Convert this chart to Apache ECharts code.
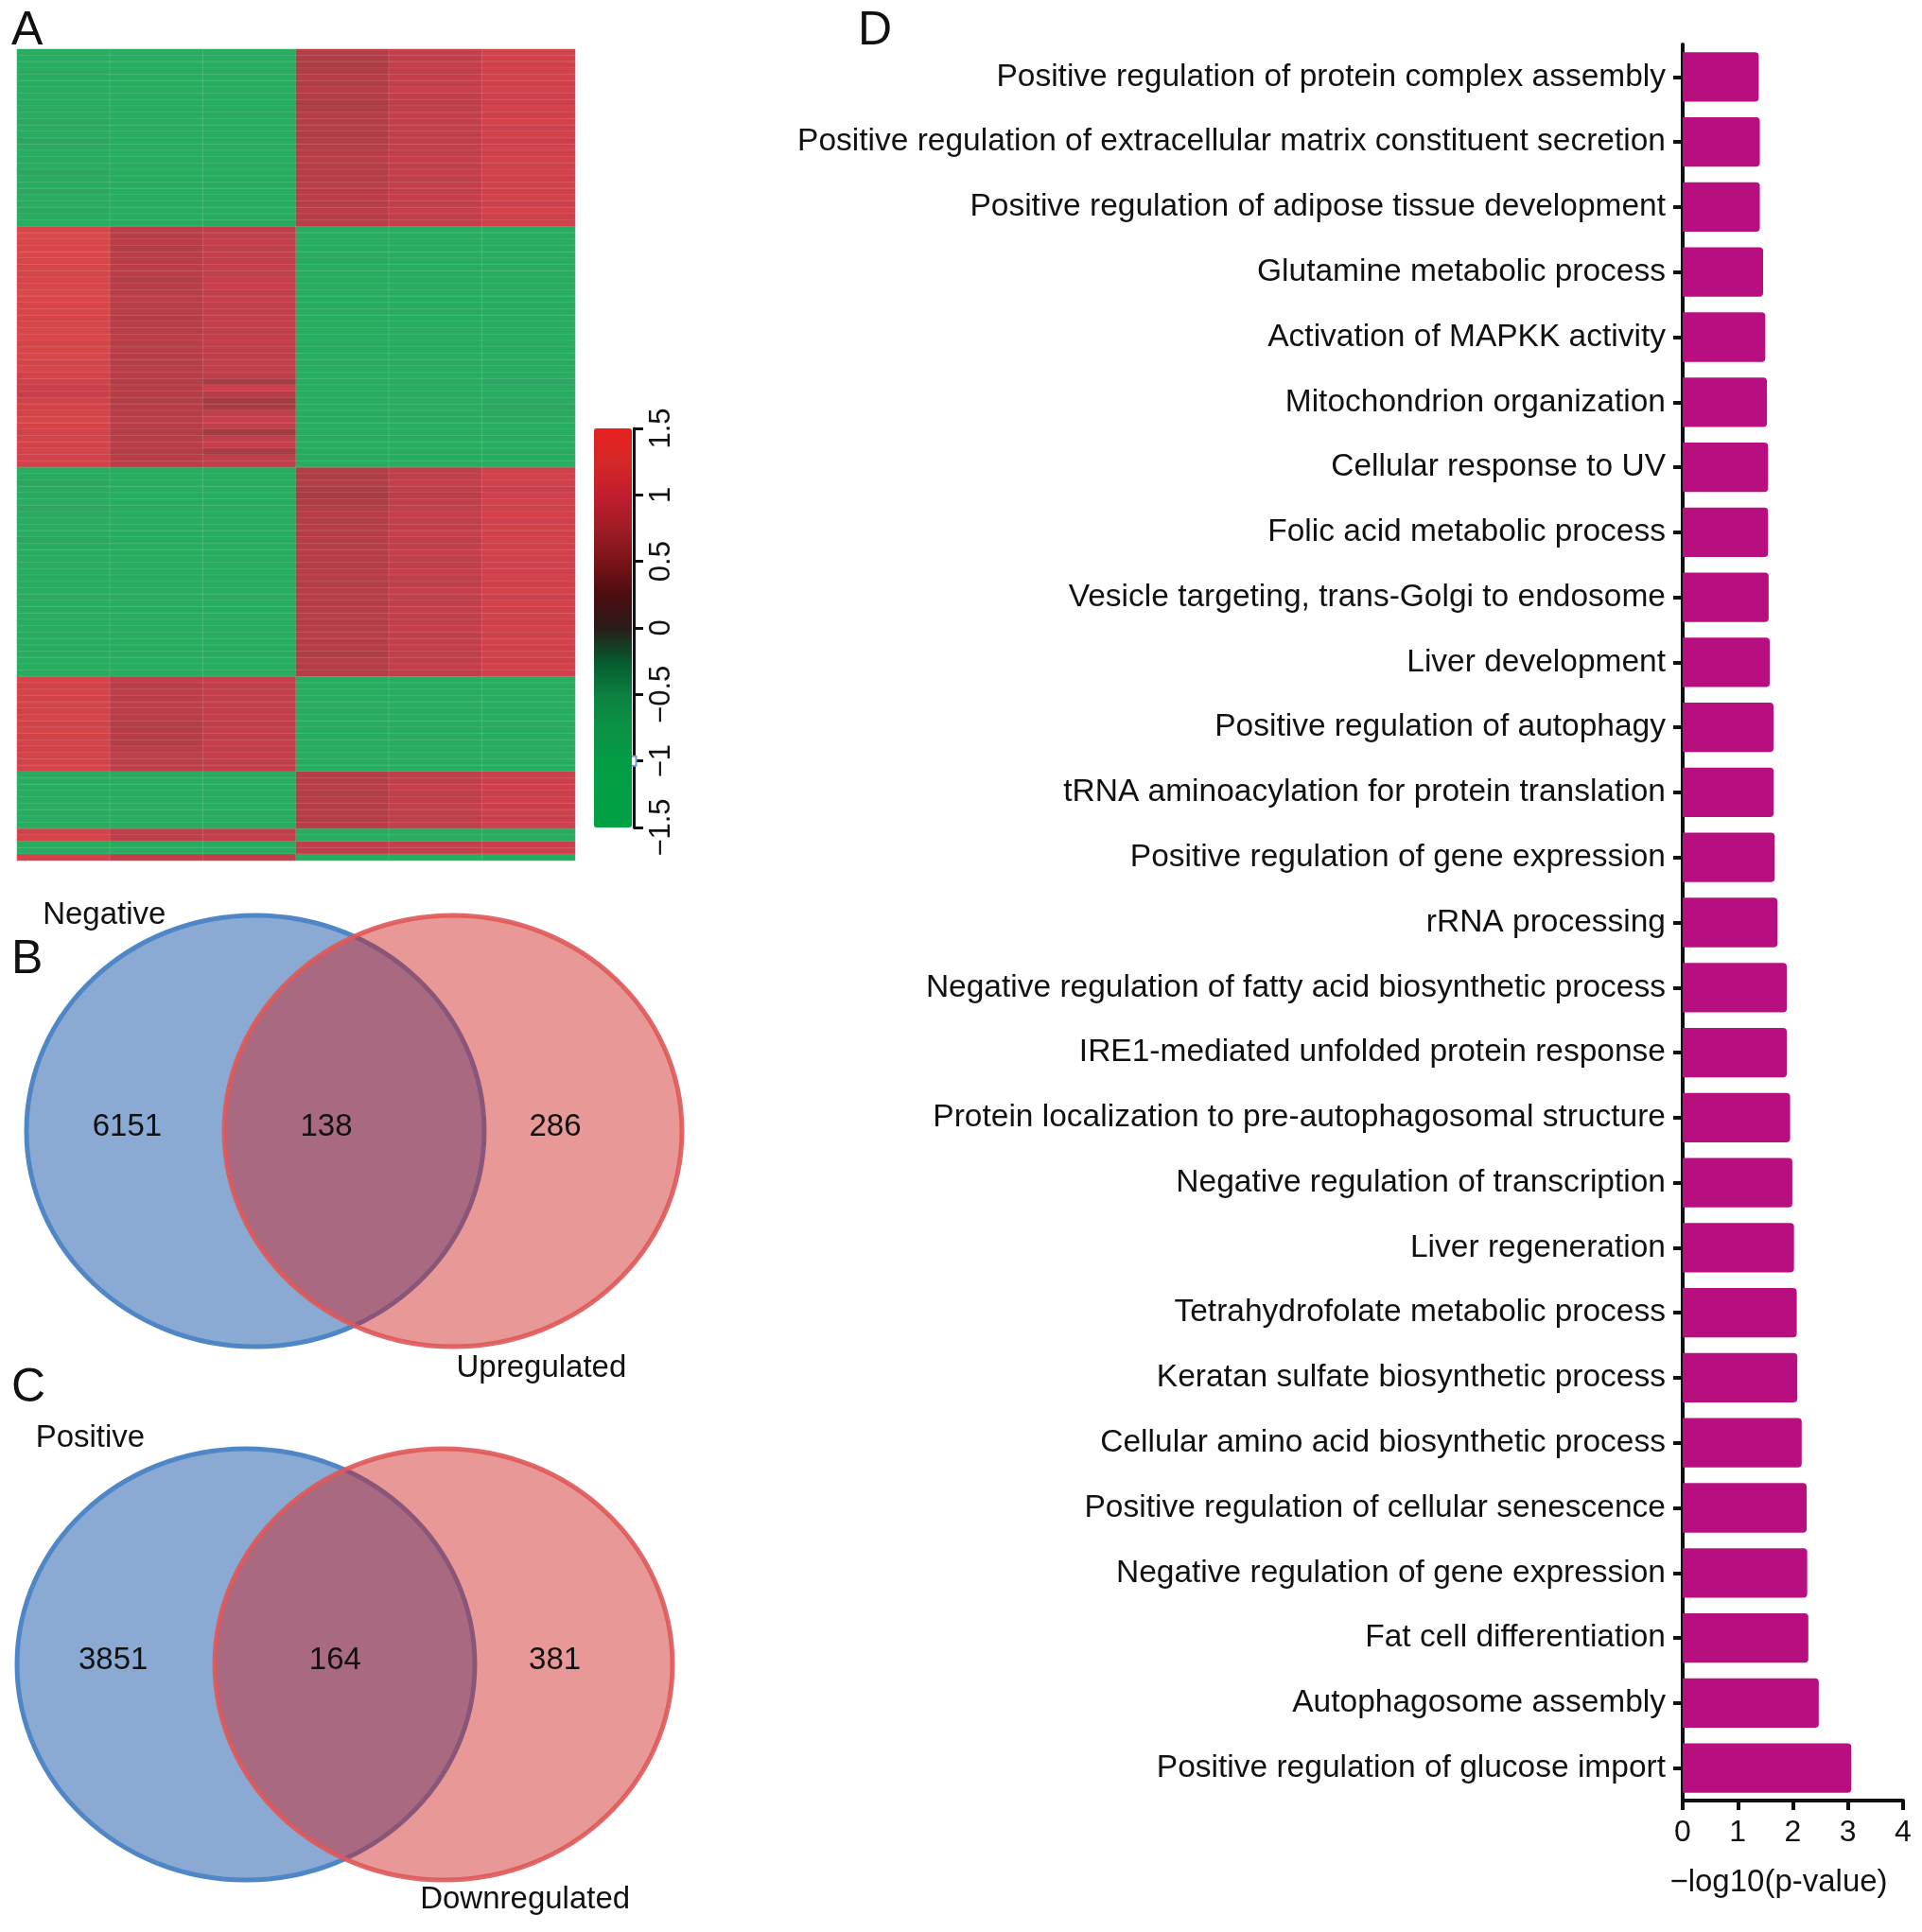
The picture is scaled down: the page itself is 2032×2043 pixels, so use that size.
<!DOCTYPE html>
<html>
<head>
<meta charset="utf-8">
<script src="https://cdn.jsdelivr.net/npm/echarts@6/dist/echarts.min.js"></script>
<style>html,body{margin:0;padding:0;background:#fff;}#c{width:2032px;height:2043px;}</style>
</head>
<body>
<div id="c"></div>
<script>
// ---------- Panel A: heatmap (6 samples, gene clusters) ----------
const heatCols = ['S1','S2','S3','S4','S5','S6'];
const block1 = [
[-1.2,-1.2,-1.2,0.82,0.95,1.1],[-1.1,-1.2,-1.2,0.76,0.9,1.1],[-1.2,-1.3,-1.2,0.72,0.95,1.05],[-1.1,-1.2,-1.1,0.8,0.9,1.1],
[-1.0,-1.2,-1.2,0.82,0.95,1.1],[-1.1,-1.2,-1.2,0.74,0.9,1.05],[-1.2,-1.2,-1.2,0.82,1.0,1.1],[-1.0,-1.1,-1.2,0.8,0.9,1.05],
[-1.1,-1.2,-1.2,0.72,0.88,1.0],[-0.95,-1.2,-1.2,0.76,0.9,1.1],[-1.1,-1.2,-1.1,0.82,0.95,1.05],[-0.85,-1.1,-1.2,0.8,0.9,1.1],
[-1.0,-1.2,-1.2,0.82,0.95,1.05],[-1.1,-1.2,-1.2,0.76,0.9,1.1],[-0.8,-1.2,-1.2,0.8,0.9,1.0],[-1.0,-1.2,-1.1,0.82,0.95,1.1],
[-1.1,-1.3,-1.2,0.82,0.9,1.05],[-0.95,-1.2,-1.2,0.85,0.95,1.1],[-1.1,-1.2,-1.2,0.82,0.9,1.05],[-0.85,-1.2,-1.2,0.8,0.95,1.1],
[-1.0,-1.2,-1.2,0.82,0.9,1.05],[-1.1,-1.2,-1.1,0.85,0.95,1.1],[-0.8,-1.1,-1.2,0.82,0.9,1.05],[-1.1,-1.2,-1.2,0.85,0.95,1.1],
[-1.2,-1.2,-1.2,0.82,0.9,1.05],[-0.9,-1.2,-1.2,0.85,0.95,1.1],[-1.2,-1.3,-1.2,0.82,0.9,1.05],[-1.3,-1.2,-0.95,0.85,0.95,1.1]
];
const block2 = [
[1.2,0.85,0.9,-1.2,-1.2,-1.2],[1.25,0.82,0.9,-1.2,-1.2,-1.2],[1.2,0.85,0.95,-1.2,-1.1,-1.2],[1.2,0.8,0.9,-1.2,-1.2,-1.2],
[1.25,0.85,0.95,-1.1,-1.2,-1.2],[1.2,0.82,0.9,-1.2,-1.2,-1.2],[1.2,0.85,0.95,-1.2,-1.2,-1.1],[1.15,0.85,0.9,-1.2,-1.2,-1.2],
[1.2,0.8,0.95,-1.2,-1.2,-1.2],[1.2,0.85,1.0,-1.2,-1.1,-1.2],[1.25,0.82,0.9,-1.2,-1.2,-1.2],[1.2,0.85,0.95,-1.2,-1.2,-1.2],
[1.2,0.82,0.9,-1.1,-1.2,-1.2],[1.2,0.85,0.95,-1.2,-1.2,-1.2],[1.15,0.8,0.9,-1.2,-1.2,-1.1],[1.2,0.85,0.95,-1.2,-1.2,-1.2],
[1.2,0.82,0.9,-1.2,-1.1,-1.2],[1.2,0.85,0.9,-1.2,-1.2,-1.2],[1.15,0.82,0.95,-1.2,-1.2,-1.2],[1.2,0.85,0.9,-1.2,-1.2,-1.2],
[1.2,0.8,0.88,-1.2,-1.2,-1.2],[1.15,0.82,0.95,-1.2,-1.1,-1.2],[1.2,0.85,0.9,-1.2,-1.2,-1.2],[1.1,0.82,0.88,-1.2,-1.2,-1.1],
[1.1,0.8,0.7,-1.2,-1.0,-0.9],[0.98,0.82,1.05,-1.2,-1.1,-1.1],[0.98,0.8,0.82,-1.2,-0.95,-1.1],[1.1,0.78,0.68,-1.2,-1.0,-0.95],
[1.1,0.8,0.7,-1.2,-1.1,-0.9],[1.15,0.82,0.9,-1.2,-1.1,-0.95],[1.2,0.85,1.0,-1.2,-1.2,-1.1],[1.15,0.82,0.9,-1.2,-1.2,-1.2],
[1.1,0.8,0.68,-1.2,-1.1,-1.1],[1.15,0.82,0.9,-1.2,-1.2,-1.2],[1.1,0.82,0.95,-1.2,-1.2,-1.2],[1.15,0.8,0.7,-1.2,-1.2,-1.1],
[1.1,0.82,0.9,-1.2,-1.2,-1.2],[1.1,0.85,0.9,-1.2,-1.2,-1.2]
];
const block3 = [
[-1.2,-1.2,-1.2,0.8,0.9,1.05],[-1.0,-1.2,-1.2,0.76,0.9,1.1],[-0.85,-1.2,-1.2,0.8,0.95,1.05],[-1.1,-1.2,-1.2,0.72,0.88,1.0],
[-1.0,-1.2,-1.2,0.7,0.85,1.05],[-1.1,-1.2,-1.2,0.75,0.9,1.1],[-0.8,-1.1,-1.2,0.8,0.9,1.05],[-1.1,-1.2,-1.2,0.82,0.95,1.1],
[-1.0,-1.2,-1.2,0.8,0.9,1.05],[-1.1,-1.2,-1.2,0.82,0.9,1.1],[-1.1,-1.2,-1.1,0.8,0.95,1.05],[-0.85,-1.2,-1.2,0.82,0.9,1.1],
[-1.1,-1.2,-1.2,0.8,0.9,1.05],[-1.2,-1.2,-1.2,0.82,0.95,1.1],[-1.1,-1.2,-1.2,0.82,0.9,1.05],[-1.2,-1.2,-1.2,0.8,0.9,1.1],
[-1.1,-1.1,-1.2,0.82,0.95,1.05],[-1.2,-1.2,-1.2,0.82,0.9,1.1],[-1.1,-1.2,-1.2,0.8,0.9,1.05],[-1.2,-1.2,-1.2,0.82,0.95,1.1],
[-1.1,-1.2,-1.1,0.82,0.9,1.05],[-1.2,-1.2,-1.2,0.8,0.9,1.1],[-1.1,-1.2,-1.2,0.82,0.95,1.05],[-1.2,-1.2,-1.2,0.82,0.9,1.1],
[-1.1,-1.2,-1.2,0.8,0.9,1.05],[-1.2,-1.1,-1.2,0.82,0.95,1.1],[-1.1,-1.2,-1.2,0.82,0.9,1.05],[-1.2,-1.2,-1.2,0.8,0.9,1.1],
[-1.1,-1.2,-1.2,0.82,0.95,1.05],[-1.2,-1.2,-1.2,0.76,0.9,1.1],[-1.1,-1.2,-1.2,0.82,0.9,1.05],[-1.2,-1.2,-1.2,0.8,0.95,1.1],
[-1.2,-1.2,-1.2,0.82,0.9,1.05]
];
const block4 = [
[1.15,0.88,0.95,-1.2,-1.2,-1.2],[1.1,0.85,0.9,-1.2,-1.2,-1.2],[1.15,0.88,0.95,-1.2,-1.1,-1.2],[1.1,0.85,0.9,-1.2,-1.2,-1.2],
[1.15,0.88,0.95,-1.2,-1.2,-1.2],[1.1,0.85,0.9,-1.1,-1.2,-1.2],[1.15,0.82,0.95,-1.2,-1.2,-1.2],[1.1,0.8,0.9,-1.2,-1.2,-1.1],
[1.15,0.8,0.95,-1.2,-1.2,-1.2],[1.1,0.82,0.9,-1.2,-1.1,-1.2],[1.15,0.8,0.95,-1.2,-1.2,-1.2],[1.1,0.85,0.9,-1.2,-1.2,-1.2],
[1.15,0.88,0.95,-1.2,-1.2,-1.2],[1.1,0.88,0.9,-1.2,-1.2,-1.2],[1.15,0.88,0.95,-1.2,-1.2,-1.2]
];
const block5 = [
[-1.2,-1.2,-1.2,0.82,0.9,1.05],[-1.1,-1.2,-1.2,0.8,0.9,1.0],[-1.2,-1.2,-1.2,0.82,0.95,1.05],[-1.1,-1.2,-1.2,0.78,0.9,1.0],
[-1.2,-1.2,-1.2,0.82,0.9,1.05],[-1.1,-1.1,-1.2,0.8,0.95,1.0],[-1.2,-1.2,-1.2,0.82,0.9,1.05],[-1.1,-1.2,-1.2,0.8,0.9,1.0],
[-1.2,-1.2,-1.2,0.82,0.9,1.05]
];
const block6 = [[1.1,0.88,0.9,-1.2,-1.2,-1.2],[1.15,0.88,0.95,-1.2,-1.2,-1.2]];
const block7 = [[-1.2,-1.2,-1.2,0.9,0.95,1.0],[-1.2,-1.2,-1.2,0.88,0.95,1.05]];
const block8 = [[1.1,0.9,0.9,-1.2,-1.2,-1.2]];

// ---------- Panels B & C: Venn diagrams ----------
const vennBNames = ['Negative','Upregulated'];
const vennBCounts = [6151,138,286];
const vennCNames = ['Positive','Downregulated'];
const vennCCounts = [3851,164,381];

// ---------- Panel D: GO enrichment ----------
const goTerms = [
'Positive regulation of protein complex assembly',
'Positive regulation of extracellular matrix constituent secretion',
'Positive regulation of adipose tissue development',
'Glutamine metabolic process',
'Activation of MAPKK activity',
'Mitochondrion organization',
'Cellular response to UV',
'Folic acid metabolic process',
'Vesicle targeting, trans-Golgi to endosome',
'Liver development',
'Positive regulation of autophagy',
'tRNA aminoacylation for protein translation',
'Positive regulation of gene expression',
'rRNA processing',
'Negative regulation of fatty acid biosynthetic process',
'IRE1-mediated unfolded protein response',
'Protein localization to pre-autophagosomal structure',
'Negative regulation of transcription',
'Liver regeneration',
'Tetrahydrofolate metabolic process',
'Keratan sulfate biosynthetic process',
'Cellular amino acid biosynthetic process',
'Positive regulation of cellular senescence',
'Negative regulation of gene expression',
'Fat cell differentiation',
'Autophagosome assembly',
'Positive regulation of glucose import'
];
const goNegLog10P = [1.38,1.40,1.40,1.46,1.50,1.53,1.55,1.55,1.56,1.58,1.65,1.65,1.67,1.72,1.89,1.89,1.95,1.99,2.02,2.07,2.08,2.16,2.25,2.26,2.28,2.47,3.06];

// ---------- build ----------
const FONT = '"Liberation Sans", Arial, Helvetica, sans-serif';
const TXT = '#111';
const heatRows = [].concat(block1, block2, block3, block4, block5, block6, block7, block8);
const rowIdx = heatRows.map((r, i) => String(i));
const heatData = [];
heatRows.forEach((row, ri) => row.forEach((v, ci) => heatData.push([ci, ri, v])));
const minus = v => String(v).replace('-', '\u2212');

// Venn geometry (layout, unit circles): set centres on x axis
const vennCentres = [0, 0.864];
const vennStyle = [
  {fill:'#8aaad4', stroke:'#4f86c6'},
  {fill:'rgba(207,31,31,0.46)', stroke:'rgba(222,88,88,0.9)'}
];
function vennCircles(grid) {
  return {
    type:'custom', xAxisIndex:grid, yAxisIndex:grid, silent:true, clip:false,
    data: vennCentres.map((c, i) => [c, 0, i]),
    renderItem: (params, api) => {
      const p = api.coord([api.value(0), api.value(1)]);
      const s = api.size([1, 1]);
      const st = vennStyle[api.value(2)];
      return {type:'ellipse', shape:{cx:p[0], cy:p[1], rx:s[0], ry:s[1]},
        style:{fill:st.fill, stroke:st.stroke, lineWidth:5}};
    }
  };
}
function textScatter(grid, pts) {
  return {
    type:'scatter', xAxisIndex:grid, yAxisIndex:grid, silent:true, symbolSize:1, clip:false,
    itemStyle:{color:'rgba(0,0,0,0)', opacity:1}, labelLayout:{hideOverlap:false},
    data: pts,
    label:{show:true, position:'inside', formatter:p => String(p.value[2]), fontSize:33,
      color:TXT, opacity:1, fontFamily:FONT}
  };
}
const countPts = (counts, xs) => counts.map((c, i) => [xs[i], 0.02, c]);
const namePts = (names, pos) => names.map((n, i) => [pos[i][0], pos[i][1], n]);
const hiddenVal = (min, max) => ({type:'value', min, max, show:false, splitLine:{show:false}});

const chart = echarts.init(document.getElementById('c'), null, {renderer:'canvas'});
chart.setOption({
  animation:false,
  backgroundColor:'#fff',
  textStyle:{fontFamily:FONT},
  grid:[
    {left:18, top:52, width:590, height:858},           // 0 heatmap
    {left:620, top:453, width:50, height:422},          // 1 colour-bar axis
    {left:28, top:968, width:693, height:456},          // 2 venn B
    {left:18, top:1532, width:693, height:456},         // 3 venn C
    {left:1779, top:47, width:233, height:1857}         // 4 GO bars
  ],
  xAxis:[
    {type:'category', gridIndex:0, data:heatCols, show:false},
    {type:'value', gridIndex:1, min:0, max:1, show:false},
    Object.assign({gridIndex:2}, hiddenVal(-1, 1.864)),
    Object.assign({gridIndex:3}, hiddenVal(-1, 1.864)),
    {type:'value', gridIndex:4, min:0, max:4, interval:1,
      axisLine:{show:true, lineStyle:{color:'#111', width:4}},
      axisTick:{show:true, length:10, lineStyle:{color:'#111', width:4}},
      axisLabel:{fontSize:32, color:TXT, margin:18, fontFamily:FONT},
      splitLine:{show:false},
      name:'\u2212log10(p-value)', nameLocation:'middle', nameGap:70,
      nameTextStyle:{fontSize:33, color:TXT, fontFamily:FONT, padding:[0,30,0,0]}}
  ],
  yAxis:[
    {type:'category', gridIndex:0, data:rowIdx, inverse:true, show:false},
    {type:'value', gridIndex:1, min:-1.5, max:1.5, interval:0.5, position:'right',
      axisLine:{show:true, onZero:false, lineStyle:{color:'#111', width:3}},
      axisTick:{show:true, length:10, lineStyle:{color:'#111', width:3}},
      axisLabel:{rotate:90, fontSize:31, color:TXT, margin:14, formatter:minus, fontFamily:FONT},
      splitLine:{show:false}},
    Object.assign({gridIndex:2}, hiddenVal(-1, 1)),
    Object.assign({gridIndex:3}, hiddenVal(-1, 1)),
    {type:'category', gridIndex:4, data:goTerms, inverse:true,
      axisLine:{show:true, lineStyle:{color:'#111', width:4}},
      axisTick:{show:true, alignWithLabel:true, length:10, lineStyle:{color:'#111', width:4}},
      axisLabel:{fontSize:33.5, color:TXT, margin:18, fontFamily:FONT}}
  ],
  visualMap:{
    type:'continuous', seriesIndex:0, min:-1.5, max:1.5, orient:'vertical',
    left:628, top:453, itemWidth:40, itemHeight:422, padding:0, calculable:false,
    text:null, showLabel:false, hoverLink:false,
    inRange:{color:['#00a143','#01a044','#049c45','#0a9344','#0d8040','#055a2e','#2a1b1a','#4d0c10','#7a1419','#a01c25','#c21d2d','#d42828','#e8201e']}
  },
  series:[
    {type:'heatmap', xAxisIndex:0, yAxisIndex:0, data:heatData, silent:true,
      itemStyle:{opacity:0.85, borderColor:'rgba(255,255,255,0.18)', borderWidth:1}},
    {type:'scatter', xAxisIndex:1, yAxisIndex:1, silent:true, symbol:'rect', symbolSize:[10,10], clip:false,
      itemStyle:{color:'#fff', borderColor:'#6f9fd8', borderWidth:2, opacity:1}, data:[[0.95, -1]]},
    vennCircles(2),
    textScatter(2, countPts(vennBCounts, [-0.56, 0.31, 1.31])),
    textScatter(2, namePts(vennBNames, [[-0.66, 1.0], [1.25, -1.1]])),
    vennCircles(3),
    textScatter(3, countPts(vennCCounts, [-0.58, 0.39, 1.35])),
    textScatter(3, namePts(vennCNames, [[-0.68, 1.05], [1.22, -1.09]])),
    {type:'bar', xAxisIndex:4, yAxisIndex:4, data:goNegLog10P, barWidth:'76%', silent:true,
      itemStyle:{color:'#b80f80', borderRadius:[0,4,4,0]}}
  ],
  graphic:[
    {type:'text', left:12, top:8, style:{text:'A', fontSize:50, fill:TXT, fontFamily:FONT}},
    {type:'text', left:12, top:990, style:{text:'B', fontSize:50, fill:TXT, fontFamily:FONT}},
    {type:'text', left:12, top:1443, style:{text:'C', fontSize:50, fill:TXT, fontFamily:FONT}},
    {type:'text', left:907, top:8, style:{text:'D', fontSize:50, fill:TXT, fontFamily:FONT}}
  ]
});
</script>
</body>
</html>
